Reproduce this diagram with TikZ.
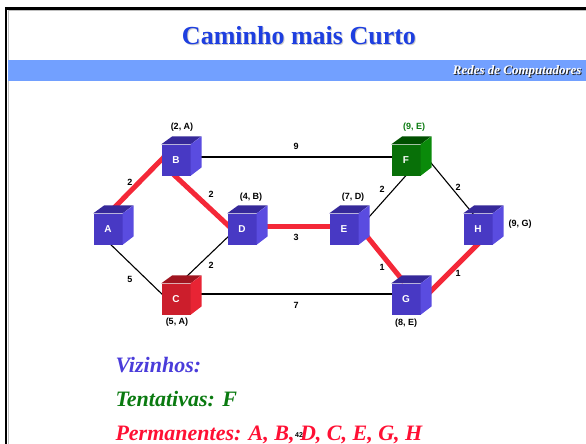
\documentclass[tikz,border=0pt]{standalone}
\usepackage{fontspec}
\setmainfont{Liberation Serif}
\setsansfont{Liberation Sans}
\usetikzlibrary{backgrounds}

\definecolor{cbF}{HTML}{4839C4}
\definecolor{cbT}{HTML}{36299A}
\definecolor{cbS}{HTML}{5A4CE0}
\definecolor{crF}{HTML}{CC1E2C}
\definecolor{crT}{HTML}{A01520}
\definecolor{crS}{HTML}{E82434}
\definecolor{cgF}{HTML}{087008}
\definecolor{cgT}{HTML}{005000}
\definecolor{cgS}{HTML}{0A8A0A}
\definecolor{pathred}{HTML}{F42838}
\definecolor{titleblue}{HTML}{1E3FE0}
\definecolor{bandblue}{HTML}{72A0FF}
\definecolor{vizblue}{HTML}{4A3CDA}
\definecolor{tentgreen}{HTML}{0A7A10}
\definecolor{permred}{HTML}{FF1034}

\tikzset{
  cube/.style={minimum width=29pt, minimum height=31pt, inner sep=0pt,
    text=white, font=\sffamily\bfseries\fontsize{10}{12}\selectfont},
  cost/.style={font=\sffamily\bfseries\fontsize{9}{11}\selectfont},
  wt/.style={font=\sffamily\bfseries\fontsize{9}{11}\selectfont},
  best/.style={draw=pathred, line width=5pt},
  link/.style={draw=black, line width=1.1pt},
  setlist/.style={anchor=base west, font=\bfseries\itshape\fontsize{22}{24}\selectfont},
}

\begin{document}
\begin{tikzpicture}[x=1pt, y=-1pt]
\useasboundingbox (0,0) rectangle (586,444);

%% === cornice e intestazione ===
\draw[gray!50, line width=1pt] (8.5,444) -- (8.5,11) -- (586,11);
\draw[black, line width=2.5pt] (6,444) -- (6,8.5) -- (586,8.5);
\fill[bandblue] (7.5,60) rectangle (586,81);

\node[text=black!20, font=\bfseries\fontsize{26}{28}\selectfont] at (300,37) {Caminho mais Curto};
\node[text=titleblue, font=\bfseries\fontsize{26}{28}\selectfont] (title) at (299,35.5) {Caminho mais Curto};
\node[anchor=east, text=black!85, font=\bfseries\itshape\fontsize{13}{15}\selectfont] at (586,72) {Redes de Computadores};
\node[anchor=east, text=white, font=\bfseries\itshape\fontsize{13}{15}\selectfont] (band) at (585,71) {Redes de Computadores};

%% === nodi (cubi) ===
\foreach \n/\x/\y/\c in {A/108/229/cb, B/176/160/cb, C/176/299/cr, D/242/229/cb,
                         E/344/229/cb, F/406/160/cg, G/406/299/cb, H/478/229/cb} {
  \node[cube, fill=\c F] (\n) at (\x,\y) {\n};
  \fill[\c T] (\n.north west) -- ++(11,-8) -- ++(29,0) -- (\n.north east) -- cycle;
  \fill[\c S] (\n.north east) -- ++(11,-8) -- ++(0,31) -- (\n.south east) -- cycle;
}

%% === collegamenti ===
\begin{pgfonlayer}{background}
\draw[link] ([shift={(20,-3)}]B.center)   -- ([shift={(-10,-3)}]F.center);
\draw[link] ([shift={(-2,11)}]A.center)   -- ([shift={(-10,-1)}]C.center);
\draw[link] ([shift={(-10,4)}]D.center)   -- ([shift={(8,-20)}]C.center);
\draw[link] ([shift={(20,-5)}]C.center)   -- ([shift={(-10,-5)}]G.center);
\draw[link] ([shift={(17,-3)}]E.center)   -- ([shift={(4,11)}]F.center);
\draw[link] ([shift={(16,-8)}]F.center)   -- ([shift={(-4,-14)}]H.center);
\draw[best] ([shift={(3,-18)}]A.center)   -- ([shift={(-11,-4)}]B.center);
\draw[best] ([shift={(-4,13)}]B.center)   -- ([shift={(-9,1)}]D.center);
\draw[best] ([shift={(8,-3)}]D.center)    -- ([shift={(-4,-3)}]E.center);
\draw[best] ([shift={(17,0)}]E.center)    -- ([shift={(-2,-17)}]G.center);
\draw[best] ([shift={(22,-5)}]G.center)   -- ([shift={(3,12)}]H.center);
\end{pgfonlayer}

%% pesi
\foreach \x/\y/\w in {130/182/2, 211/194/2, 296/146/9, 296/237/3, 130/279/5,
                      211/265/2, 296/305/7, 382/189/2, 458/187/2, 382/267/1, 458/273/1}
  \node[wt] at (\x,\y) {\w};

%% etichette (distanza, predecessore)
\node[cost] (cB) at (182,127) {(2, A)};
\node[cost] (cD) at (251,197) {(4, B)};
\node[cost] (cC) at (177,322) {(5, A)};
\node[cost] (cE) at (353,197) {(7, D)};
\node[cost, text=tentgreen] (cF) at (414,127) {(9, E)};
\node[cost] (cH) at (520,224) {(9, G)};
\node[cost] (cG) at (406,323) {(8, E)};

%% === insiemi ===
\node[setlist, text=vizblue]   (viz)  at (112,372) {Vizinhos:};
\node[setlist, text=tentgreen] (tent) at (112,406) {Tentativas: F};
\node[setlist, text=permred]   (perm) at (112,440) {Permanentes: A, B, D, C, E, G, H};
\node[font=\sffamily\bfseries\fontsize{7}{8}\selectfont] (pg) at (299,435) {42};

\end{tikzpicture}
\end{document}
